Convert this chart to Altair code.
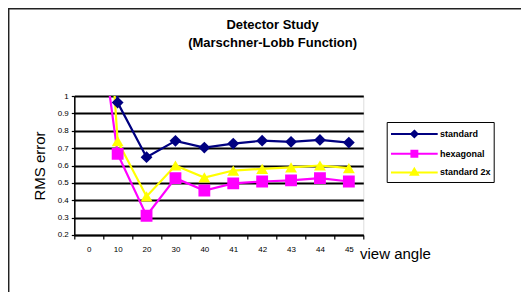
import altair as alt
import pandas as pd

angles = ["0", "10", "20", "30", "40", "41", "42", "43", "44", "45"]
series_names = ["standard", "hexagonal", "standard 2x"]
standard = [4.5, 0.962, 0.648, 0.742, 0.703, 0.726, 0.743, 0.736, 0.747, 0.732]
hexagonal = [1.9, 0.667, 0.311, 0.527, 0.456, 0.497, 0.508, 0.514, 0.527, 0.508]
standard_2x = [3.2, 0.74, 0.422, 0.60, 0.531, 0.571, 0.581, 0.589, 0.60, 0.585]
colors = ["#000080", "#FF00FF", "#FFFF00"]
y_ticks = [0.2, 0.3, 0.4, 0.5, 0.6, 0.7, 0.8, 0.9, 1.0]

rows = []
for name, vals in zip(series_names, [standard, hexagonal, standard_2x]):
    for a, v in zip(angles, vals):
        rows.append({"angle": a, "rms": v, "series": name})
df = pd.DataFrame(rows)

W, H = 289, 139
FONT = "Liberation Sans"

x_enc = alt.X("angle:N", sort=angles,
              scale=alt.Scale(type="band", paddingInner=0, paddingOuter=0),
              bandPosition=0.5,
              axis=alt.Axis(title=None, labelAngle=0, tickBand="extent", tickSize=4,
                            labelPadding=7, labelFontSize=8, labelFont=FONT,
                            labelColor="black", domainColor="black", domainWidth=1.5,
                            tickColor="black", tickWidth=1.2, grid=False))
y_enc = alt.Y("rms:Q", scale=alt.Scale(domain=[0.2, 1.0], nice=False, zero=False),
              axis=alt.Axis(title=None, values=y_ticks, labelExpr="format(datum.value, '~g')",
                            tickSize=3, labelPadding=3, labelFontSize=8, labelFont=FONT,
                            labelColor="black", domainColor="black", domainWidth=1.5,
                            tickColor="black", tickWidth=1.2,
                            grid=True, gridColor="black", gridWidth=2))

color_scale = alt.Scale(domain=series_names, range=colors)

lines = alt.Chart(df).mark_line(strokeWidth=2.2, clip=True).encode(
    x=x_enc, y=y_enc,
    color=alt.Color("series:N", scale=color_scale, legend=None),
)

points = alt.Chart(df).mark_point(filled=True, opacity=1, size=140, clip=True).encode(
    x=x_enc, y=y_enc,
    color=alt.Color("series:N", scale=color_scale, legend=None),
    shape=alt.Shape("series:N", scale=alt.Scale(domain=series_names,
                    range=["diamond", "square", "triangle-up"]), legend=None),
)

# legend symbols: a line with a small marker (unit = 8 px)
leg_paths = [
    "M-0.9625,0H4.875M1.956,-0.4L2.356,0L1.956,0.4L1.556,0Z",
    "M-0.9625,0H4.875M1.59,-0.37H2.33V0.37H1.59Z",
    "M-0.9625,0H4.875M1.956,-0.45L2.4,0.3H1.51Z",
]
legend_layer = alt.Chart(df).transform_filter("false").mark_point(
    filled=True, opacity=1, size=256, strokeWidth=2).encode(
    x=x_enc, y=y_enc,
    color=alt.Color("series:N", scale=color_scale,
                    legend=alt.Legend(title=None, orient="none", legendX=312.4, legendY=26,
                                      labelFont=FONT, labelFontSize=9, labelFontWeight="bold",
                                      labelColor="black", labelOffset=32.3,
                                      labelExpr="datum.label + '  '",
                                      strokeColor="black", fillColor="white",
                                      padding=3, rowPadding=2.7, symbolSize=256,
                                      symbolStrokeWidth=2)),
    shape=alt.Shape("series:N", scale=alt.Scale(domain=series_names, range=leg_paths)),
    stroke=alt.Stroke("series:N", scale=color_scale),
)

def txt(text, x, y, size, weight="normal", angle=0, align="center"):
    return alt.Chart(pd.DataFrame({"t": [text]})).mark_text(
        font=FONT, fontSize=size, fontWeight=weight, angle=angle, align=align,
        baseline="middle", color="black").encode(
        text="t:N", x=alt.value(x), y=alt.value(y))

title1 = txt("Detector Study", 198.3, -71, 13, "bold")
title2 = txt("(Marschner-Lobb Function)", 198.3, -53.5, 13, "bold")
ytitle = txt("RMS error", -34.3, 70, 15, angle=270)
xtitle = txt("view angle", 285.7, 158, 15, align="left")

frame_top = alt.Chart(pd.DataFrame({"a": [0]})).mark_rule(color="#222222", strokeWidth=1.5).encode(
    x=alt.value(-66), x2=alt.value(460), y=alt.value(-87.3))
frame_left = alt.Chart(pd.DataFrame({"a": [0]})).mark_rule(color="#222222", strokeWidth=1.5).encode(
    x=alt.value(-65.6), y=alt.value(-88), y2=alt.value(220))

chart = alt.layer(lines, points, legend_layer, title1, title2, ytitle, xtitle,
                  frame_top, frame_left).resolve_scale(
    color="independent", shape="independent", stroke="independent"
).properties(
    width=W, height=H,
    autosize=alt.AutoSizeParams(type="none"),
    padding={"left": 66.3, "top": 88, "right": 158, "bottom": 57},
).configure_view(
    stroke="#808080", strokeWidth=2, fill="white"
).configure(background="white")

chart.save("out.html", embed_options={"renderer": "svg", "actions": False})
